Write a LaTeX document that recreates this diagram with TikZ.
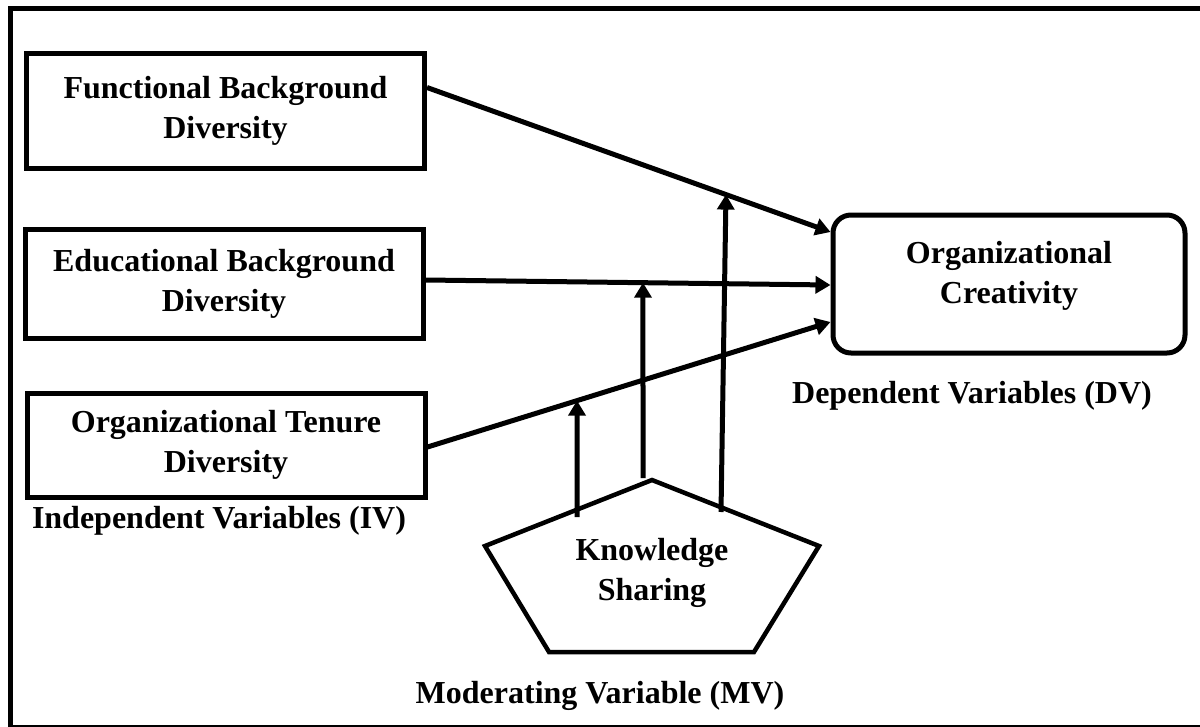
\documentclass[tikz,border=0pt]{standalone}
\usepackage{fontspec}
\setmainfont{Liberation Serif}
\usetikzlibrary{arrows.meta,calc}
\begin{document}
\begin{tikzpicture}[x=1pt,y=-1pt,
  txt/.style={font=\bfseries\fontsize{32}{40}\selectfont, align=center, inner sep=0pt},
  ivbox/.style={txt, draw, line width=5pt, rectangle, minimum width=398pt},
  dvbox/.style={draw, line width=5pt, rounded corners=18pt, minimum width=352pt, minimum height=138pt, inner sep=0pt},
  conn/.style={line width=5pt, -{Triangle[length=15pt,width=17pt]}},
  pentaline/.style={draw, line width=4.5pt, line join=miter}
]
\clip (0,0) rectangle (1200,726);
\useasboundingbox (0,0) rectangle (1200,726);
% outer frame
\draw[line width=5pt] (10,8.3) rectangle (1210,727.8);

% independent variable boxes
\node[ivbox, minimum height=115pt] (b1) at (225.5,110.5) {Functional Background\\Diversity};
\node[ivbox, minimum height=109pt] (b2) at (224,283.5) {Educational Background\\Diversity};
\node[ivbox, minimum height=104pt] (b3) at (226,445) {Organizational Tenure\\Diversity};

% dependent variable box
\node[dvbox] (dv) at (1009,284) {};
\node[txt] (dvt) at (1009,276) {Organizational\\Creativity};

% labels
\node[txt] (iv) at (219,521) {Independent Variables (IV)};
\node[txt] (dvl) at (972,396) {Dependent Variables (DV)};
\node[txt] (mvl) at (600,696) {Moderating Variable (MV)};

% moderating pentagon
\coordinate (p1) at (652,480);
\coordinate (p2) at (819,546);
\coordinate (p3) at (754,652);
\coordinate (p4) at (549,652);
\coordinate (p5) at (485,546);
\draw[pentaline] (p1) -- (p2) -- (p3) -- (p4) -- (p5) -- cycle;
\node[txt] (ks) at (652,573) {Knowledge\\Sharing};

% main connectors
\coordinate (s1) at ($(b1.east)+(0,-23)$);
\coordinate (s2) at ($(b2.east)+(0,-3.5)$);
\coordinate (s3) at ($(b3.east)+(0,2)$);
\coordinate (e1) at ($(dv.west)+(0,-52)$);
\coordinate (e2) at ($(dv.west)+(0,1)$);
\coordinate (e3) at ($(dv.west)+(0,38)$);
\draw[conn] (s1) -- (e1);
\draw[conn] (s2) -- (e2);
\draw[conn] (s3) -- (e3);

% moderating connectors
\coordinate (m3) at ($(s3)!0.371!(e3)$);
\coordinate (m2) at ($(s2)!0.537!(e2)$);
\coordinate (m1) at ($(s1)!0.741!(e1)$);
\coordinate (k3) at (577,517);
\coordinate (k2) at (643,478);
\coordinate (k1) at (721,512);
\draw[conn] (k3) -- (m3);
\draw[conn] (k2) -- (m2);
\draw[conn] (k1) -- (m1);
\end{tikzpicture}
\end{document}
